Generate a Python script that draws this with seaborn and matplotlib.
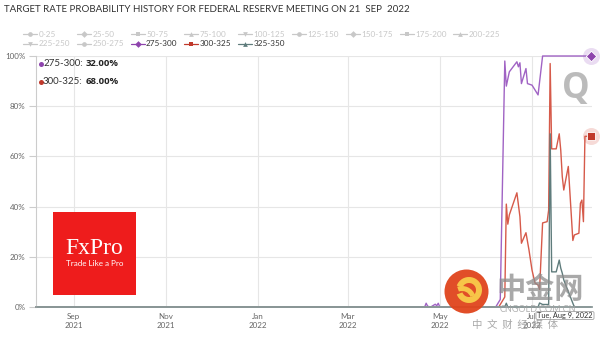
import matplotlib
matplotlib.use("Agg")
import matplotlib.pyplot as plt
import seaborn as sns
import pandas as pd
from matplotlib.patches import Rectangle, Circle, FancyBboxPatch, Wedge
from matplotlib.lines import Line2D

# ---------------- data ----------------
title = "TARGET RATE PROBABILITY HISTORY FOR FEDERAL RESERVE MEETING ON 21  SEP  2022"

legend_names = ["0-25", "25-50", "50-75", "75-100", "100-125", "125-150", "150-175",
                "175-200", "200-225", "225-250", "250-275", "275-300", "300-325", "325-350"]
active_series = ["275-300", "300-325", "325-350"]

purple_dates = ["2021-08-07", "2022-04-21", "2022-04-22", "2022-04-23", "2022-04-25", "2022-04-28",
                "2022-04-29", "2022-04-30", "2022-05-01", "2022-06-07", "2022-06-10", "2022-06-13",
                "2022-06-14", "2022-06-16", "2022-06-21", "2022-06-22", "2022-06-23", "2022-06-24",
                "2022-06-27", "2022-06-28", "2022-07-01", "2022-07-05", "2022-07-08", "2022-08-09"]
purple_vals = [0, 0, 1.5, 0.3, 0, 1.1, 0.5, 1.5, 0, 0, 3, 98,
               88, 93.7, 97.7, 95.7, 97.3, 89, 95, 89, 88.4, 84.5, 100, 100]

red_dates = ["2021-08-07", "2022-06-09", "2022-06-10", "2022-06-13", "2022-06-14", "2022-06-15",
             "2022-06-16", "2022-06-21", "2022-06-23", "2022-06-24", "2022-06-27", "2022-06-29",
             "2022-07-01", "2022-07-03", "2022-07-05", "2022-07-06", "2022-07-08", "2022-07-11",
             "2022-07-12", "2022-07-13", "2022-07-14", "2022-07-17", "2022-07-19", "2022-07-20",
             "2022-07-21", "2022-07-22", "2022-07-25", "2022-07-28", "2022-07-29", "2022-08-01",
             "2022-08-02", "2022-08-03", "2022-08-04", "2022-08-05", "2022-08-09"]
red_vals = [0, 0, 1, 4, 41, 33, 36.7, 45.5, 36, 25.4, 29.6, 22.7, 14.7, 9.5, 8.8, 7, 33.5, 34,
            38.6, 97, 63, 63, 69, 62.5, 52, 46.6, 56, 26.5, 28.7, 29.4, 41.3, 42.6, 34, 68, 68]

gray_dates = ["2021-08-07", "2022-06-13", "2022-06-14", "2022-06-15", "2022-07-05", "2022-07-06",
              "2022-07-08", "2022-07-12", "2022-07-13", "2022-07-14", "2022-07-17", "2022-07-19",
              "2022-07-20", "2022-07-21", "2022-07-22", "2022-07-28", "2022-07-29", "2022-08-09"]
gray_vals = [0, 0, 1.5, 0, 0, 1.6, 1, 1, 69, 14, 14, 18.7, 15.5, 13.5, 10.8, 1.5, 0, 0]

tick_dates = ["2021-09-01", "2021-11-01", "2022-01-01", "2022-03-01", "2022-05-01", "2022-07-01"]
tick_labels = ["Sep\n2021", "Nov\n2021", "Jan\n2022", "Mar\n2022", "May\n2022", "Jul\n2022"]
y_ticks = [0, 20, 40, 60, 80, 100]
y_labels = ["0%", "20%", "40%", "60%", "80%", "100%"]

tooltip_names = ["275-300", "300-325"]
tooltip_vals = ["32.00%", "68.00%"]
hover_date = "Tue, Aug 9, 2022"

# ---------------- style ----------------
colors = {"275-300": "#a063c4", "300-325": "#d65a4a", "325-350": "#5f7c7c"}
marker_colors = {"275-300": "#8e44ad", "300-325": "#c0392b", "325-350": "#5f7c7c"}
inactive = "#c8c8c8"

sns.set_theme(style="white")
plt.rcParams['font.family'] = ['Lato', 'Noto Sans CJK SC', 'DejaVu Sans']

fig = plt.figure(figsize=(6.01, 3.42), dpi=100)
fig.patch.set_facecolor("white")
W, H = 601, 342
ax = fig.add_axes([36 / W, 1 - 307 / H, (592 - 36) / W, (307 - 56) / H])

frames = []
for name, d, v in [("275-300", purple_dates, purple_vals),
                   ("300-325", red_dates, red_vals),
                   ("325-350", gray_dates, gray_vals)]:
    frames.append(pd.DataFrame({"date": pd.to_datetime(d), "prob": v, "range": name}))
df = pd.concat(frames, ignore_index=True)

sns.lineplot(data=df, x="date", y="prob", hue="range", hue_order=active_series,
             palette=colors, linewidth=1.0, legend=False, ax=ax, estimator=None, sort=False)
for ln in ax.lines:
    ln.set_clip_on(False)

# end markers with halo
last_p = (pd.Timestamp(purple_dates[-1]), purple_vals[-1])
last_r = (pd.Timestamp(red_dates[-1]), red_vals[-1])
ax.scatter([last_p[0]], [last_p[1]], s=150, color=colors["275-300"], alpha=0.22, lw=0, clip_on=False, zorder=5)
ax.scatter([last_p[0]], [last_p[1]], s=28, marker="D", color=marker_colors["275-300"],
           edgecolor="white", lw=0.6, clip_on=False, zorder=6)
ax.scatter([last_r[0]], [last_r[1]], s=150, color=colors["300-325"], alpha=0.22, lw=0, clip_on=False, zorder=5)
ax.scatter([last_r[0]], [last_r[1]], s=40, marker="s", color=marker_colors["300-325"],
           edgecolor="white", lw=0.6, clip_on=False, zorder=6)

ax.set_xlim(pd.Timestamp("2021-08-07"), pd.Timestamp("2022-08-09 16:00"))
ax.set_ylim(0, 100)
ax.set_xticks(pd.to_datetime(tick_dates))
ax.set_xticklabels(tick_labels, fontsize=5.8, color="#666666", linespacing=1.35)
ax.set_yticks(y_ticks)
ax.set_yticklabels(y_labels, fontsize=5.8, color="#666666")
ax.set_xlabel("")
ax.set_ylabel("")
ax.grid(True, color="#e6e6e6", lw=0.8)
ax.set_axisbelow(True)
for s in ["top", "right"]:
    ax.spines[s].set_visible(False)
ax.spines["bottom"].set_color("#8c9a9a")
ax.spines["bottom"].set_linewidth(1.3)
ax.spines["left"].set_color("#cccccc")
ax.spines["left"].set_linewidth(0.8)
ax.tick_params(axis="y", length=5.2, width=0.8, color="#cccccc", pad=2.5, left=True)
ax.tick_params(axis="x", length=0, pad=4)

# ---------------- overlay in pixel coordinates ----------------
ov = fig.add_axes([0, 0, 1, 1], zorder=5)
ov.set_xlim(0, W)
ov.set_ylim(H, 0)
ov.axis("off")
ov.patch.set_alpha(0)

t = ov.text(4, 9.5, title, fontsize=8.2, color="#333333", va="center", ha="left")
fig.canvas.draw()
bb = t.get_window_extent()
t.set_fontsize(8.2 * 406 / bb.width)

markers = ["o", "D", "s", "^", "v"]
for i, name in enumerate(legend_names):
    row, col = divmod(i, 9)
    cx = 30 + 53.8 * col
    cy = 34.3 if row == 0 else 44
    if name in active_series:
        c = marker_colors[name]
        tc = "#333333"
    else:
        c = inactive
        tc = inactive
    ov.add_line(Line2D([cx - 7, cx + 7], [cy, cy], color=c, lw=0.9))
    ov.plot([cx], [cy], marker=markers[i % 5], color=c, ms=3.4, mew=0)
    ov.text(cx + 8.5, cy, name, fontsize=5.9, color=tc, va="center", ha="left")

# tooltip (top-left)
for j, (nm, val) in enumerate(zip(tooltip_names, tooltip_vals)):
    yy = 64 + 17.7 * j
    ov.plot([40.5], [yy], marker="o", ms=3.6, color=marker_colors[nm], mew=0)
    ov.text(43, yy, nm + ":", fontsize=7, color="#333333", va="center", ha="left")
    ov.text(85.5, yy, val, fontsize=6.8, color="#222222", va="center", ha="left",
            fontweight="bold", family=["Open Sans", "DejaVu Sans"])

# FxPro box
ov.add_patch(Rectangle((53, 211.5), 83, 83, facecolor="#ee1c1c", edgecolor="none"))
ov.text(94.5, 248.5, "FxPro", fontsize=17, color="white", ha="center", va="center",
        family=["Liberation Serif", "DejaVu Serif"])
ov.text(94.5, 263, "Trade Like a Pro", fontsize=5.8, color="white", ha="center", va="center")

# "Q" mark
ov.text(576, 89, "Q", fontsize=25, fontweight="bold", color="#b4b4b4", ha="center", va="center", alpha=0.9,
        family=["Open Sans", "DejaVu Sans"])

# watermark logo
ov.add_patch(Circle((466.5, 291.5), 22, facecolor="#e0441c", edgecolor="none", alpha=0.95))
ov.add_patch(Wedge((469, 290), 13, 200, 520, width=6, facecolor="#f7c548", edgecolor="none"))
ov.add_patch(Wedge((462, 300), 14, 250, 340, width=5, facecolor="#f7c548", edgecolor="none"))
ov.text(540, 289, "中金网", fontsize=21, fontweight="bold", color="#8c8c8c", alpha=0.75,
        ha="center", va="center", family=["Noto Sans CJK SC", "DejaVu Sans"])
ov.text(538, 309, "CNGOLD.COM.CN", fontsize=6.5, color="#a0a0a0", alpha=0.8, ha="center", va="center")
ov.text(515, 324.5, "中  文  财  经  媒  体", fontsize=7.5, color="#9a9a9a", alpha=0.85,
        ha="center", va="center", family=["Noto Sans CJK SC", "DejaVu Sans"])

# hover date label
ov.add_patch(FancyBboxPatch((536, 311.5), 58, 8, boxstyle="round,pad=0,rounding_size=1.5",
                            facecolor="white", edgecolor="#999999", lw=0.6, alpha=0.9))
ov.text(565, 315.6, hover_date, fontsize=5.3, color="#333333", ha="center", va="center")

fig.savefig("out.png", dpi=100, facecolor="white")
